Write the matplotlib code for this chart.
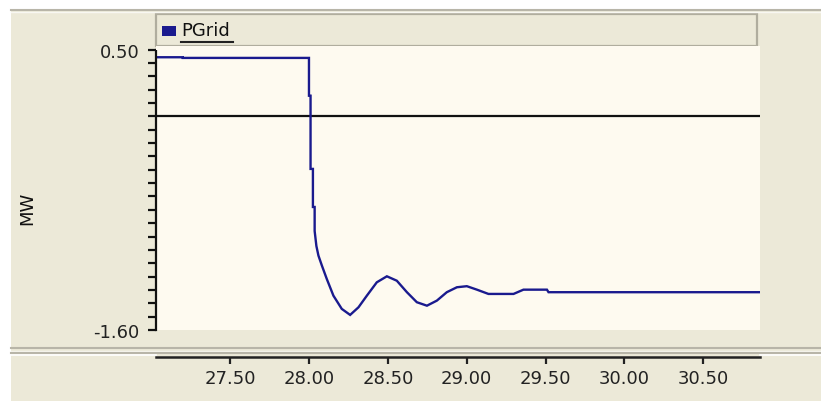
import numpy as np
import matplotlib.pyplot as plt
from matplotlib.patches import Rectangle
from matplotlib.lines import Line2D

plt.rcParams['font.family'] = ['DejaVu Sans']

# PGrid trace (time in s, power in MW)
t = [27.03, 27.20, 27.20, 28.000, 28.000, 28.010, 28.010, 28.025, 28.025,
     28.036, 28.036, 28.047, 28.060, 28.082, 28.113, 28.155, 28.208, 28.261,
     28.314, 28.367, 28.430, 28.494, 28.557, 28.621, 28.684, 28.748, 28.811,
     28.874, 28.938, 29.001, 29.065, 29.138, 29.297, 29.360, 29.509, 29.519,
     30.86]
pgrid = [0.442, 0.442, 0.437, 0.437, 0.154, 0.154, -0.394, -0.394, -0.679,
         -0.679, -0.859, -0.971, -1.043, -1.118, -1.218, -1.343, -1.442, -1.487,
         -1.430, -1.343, -1.243, -1.198, -1.231, -1.317, -1.392, -1.418, -1.380,
         -1.317, -1.280, -1.272, -1.298, -1.330, -1.330, -1.298, -1.298, -1.317,
         -1.317]

x_ticks = [27.5, 28.0, 28.5, 29.0, 29.5, 30.0, 30.5]
x_labels = ['27.50', '28.00', '28.50', '29.00', '29.50', '30.00', '30.50']
y_min, y_max = -1.6, 0.5
x_min, x_max = 27.03, 30.86

W, H = 821, 402
BEIGE = '#ECE9D8'
CREAM = '#FEFAF0'
NAVY = '#1A1A8E'


def fx(x):
    return x / W


def fy(y):
    return 1 - y / H


def frect(x0, y0, x1, y1, **kw):
    # rectangle given in pixel coords (top-left origin)
    return Rectangle((fx(x0), fy(y1)), fx(x1) - fx(x0), fy(y0) - fy(y1),
                     transform=fig.transFigure, **kw)


def fline(x0, x1, y, **kw):
    return Line2D([fx(x0), fx(x1)], [fy(y), fy(y)],
                  transform=fig.transFigure, **kw)


fig = plt.figure(figsize=(W / 100, H / 100), dpi=100)
fig.patch.set_facecolor('white')

# panel background and frame lines
fig.add_artist(frect(11, 10, W, H, facecolor=BEIGE, edgecolor='none', zorder=-5))
fig.add_artist(fline(11, W, 10.5, color='#B8B5A8', lw=1.5))
fig.add_artist(fline(11, W, 12.5, color='#F8F7F2', lw=1))
fig.add_artist(fline(11, W, 349, color='#B8B5A8', lw=1.5))
fig.add_artist(fline(11, W, 351.5, color='#F6F5EE', lw=1))
fig.add_artist(fline(11, W, 353.5, color='#B8B5A8', lw=1.5))
fig.add_artist(fline(11, 156, 356, color='white', lw=1.2))
fig.add_artist(fline(760, W, 356, color='white', lw=1.2))

# legend strip
fig.add_artist(frect(156, 15, 757, 47, facecolor=BEIGE, edgecolor='#B0AD9E', lw=1.6))
fig.add_artist(frect(162, 27, 175.5, 36.5, facecolor=NAVY, edgecolor='none'))
fig.text(fx(181), fy(31), 'PGrid', fontsize=13, va='center', ha='left', color='#111111')
fig.add_artist(fline(181, 233, 43, color='#222222', lw=1.5))

# cream strip between legend and plot top
fig.add_artist(frect(156, 47, 760, 51, facecolor=CREAM, edgecolor='none'))

# main plot
ax = fig.add_axes([fx(156), fy(331), fx(760) - fx(156), (331 - 50.5) / H])
ax.set_facecolor(CREAM)
ax.set_xlim(x_min, x_max)
ax.set_ylim(y_min, y_max)
for s in ['top', 'right', 'bottom']:
    ax.spines[s].set_visible(False)
ax.spines['left'].set_linewidth(1.6)
ax.spines['left'].set_color('#111111')
ax.set_xticks([])
yt = np.round(np.arange(y_min, y_max + 0.01, 0.1), 2)
ax.set_yticks(yt)
ax.set_yticklabels(['%.2f' % v if v in (y_min, y_max) else '' for v in yt])
ax.tick_params(axis='y', direction='out', length=6, width=1.6, color='#111111',
               labelsize=13, pad=6, labelcolor='#222222')
ax.axhline(0, color='#111111', lw=1.6)
ax.plot(t, pgrid, color=NAVY, lw=1.7, solid_joinstyle='miter')

# time axis in its own strip
ax2 = fig.add_axes([fx(156), fy(358), fx(760) - fx(156), 0.0001])
ax2.set_facecolor('none')
ax2.set_xlim(x_min, x_max)
ax2.set_yticks([])
for s in ['top', 'right', 'left']:
    ax2.spines[s].set_visible(False)
ax2.spines['bottom'].set_linewidth(1.8)
ax2.spines['bottom'].set_color('#222222')
ax2.set_xticks(x_ticks)
ax2.set_xticklabels(x_labels)
ax2.tick_params(axis='x', direction='out', length=5, width=1.6, color='#222222',
                labelsize=13, pad=4, labelcolor='#222222')

fig.text(fx(27), fy(208), 'MW', rotation=90, fontsize=13, ha='center', va='center',
         color='#111111')

fig.savefig('out.png', dpi=100, facecolor=fig.get_facecolor())
